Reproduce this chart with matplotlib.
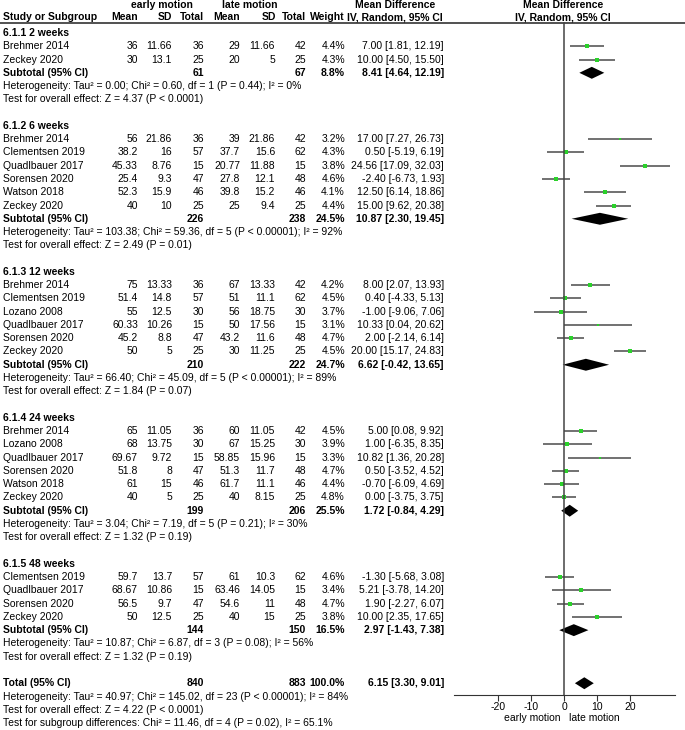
import numpy as np
import matplotlib
matplotlib.use("Agg")
import matplotlib.pyplot as plt
from matplotlib.transforms import blended_transform_factory

plt.rcParams['font.family'] = ['Liberation Sans', 'DejaVu Sans']

# dati del forest plot
gruppi = ["6.1.1 2 weeks", "6.1.2 6 weeks", "6.1.3 12 weeks", "6.1.4 24 weeks", "6.1.5 48 weeks"]

studi = [["Brehmer 2014", "Zeckey 2020"],
         ["Brehmer 2014", "Clementsen 2019", "Quadlbauer 2017", "Sorensen 2020", "Watson 2018", "Zeckey 2020"],
         ["Brehmer 2014", "Clementsen 2019", "Lozano 2008", "Quadlbauer 2017", "Sorensen 2020", "Zeckey 2020"],
         ["Brehmer 2014", "Lozano 2008", "Quadlbauer 2017", "Sorensen 2020", "Watson 2018", "Zeckey 2020"],
         ["Clementsen 2019", "Quadlbauer 2017", "Sorensen 2020", "Zeckey 2020"]]

early_mean = [[36, 30], [56, 38.2, 45.33, 25.4, 52.3, 40], [75, 51.4, 55, 60.33, 45.2, 50],
              [65, 68, 69.67, 51.8, 61, 40], [59.7, 68.67, 56.5, 50]]
early_sd = [[11.66, 13.1], [21.86, 16, 8.76, 9.3, 15.9, 10], [13.33, 14.8, 12.5, 10.26, 8.8, 5],
            [11.05, 13.75, 9.72, 8, 15, 5], [13.7, 10.86, 9.7, 12.5]]
early_n = [[36, 25], [36, 57, 15, 47, 46, 25], [36, 57, 30, 15, 47, 25],
           [36, 30, 15, 47, 46, 25], [57, 15, 47, 25]]
late_mean = [[29, 20], [39, 37.7, 20.77, 27.8, 39.8, 25], [67, 51, 56, 50, 43.2, 30],
             [60, 67, 58.85, 51.3, 61.7, 40], [61, 63.46, 54.6, 40]]
late_sd = [[11.66, 5], [21.86, 15.6, 11.88, 12.1, 15.2, 9.4], [13.33, 11.1, 18.75, 17.56, 11.6, 11.25],
           [11.05, 15.25, 15.96, 11.7, 11.1, 8.15], [10.3, 14.05, 11, 15]]
late_n = [[42, 25], [42, 62, 15, 48, 46, 25], [42, 62, 30, 15, 48, 25],
          [42, 30, 15, 48, 46, 25], [62, 15, 48, 25]]
peso = [[4.4, 4.3], [3.2, 4.3, 3.8, 4.6, 4.1, 4.4], [4.2, 4.5, 3.7, 3.1, 4.7, 4.5],
        [4.5, 3.9, 3.3, 4.7, 4.4, 4.8], [4.6, 3.4, 4.7, 3.8]]
md = [[7.00, 10.00], [17.00, 0.50, 24.56, -2.40, 12.50, 15.00], [8.00, 0.40, -1.00, 10.33, 2.00, 20.00],
      [5.00, 1.00, 10.82, 0.50, -0.70, 0.00], [-1.30, 5.21, 1.90, 10.00]]
md_lo = [[1.81, 4.50], [7.27, -5.19, 17.09, -6.73, 6.14, 9.62], [2.07, -4.33, -9.06, 0.04, -2.14, 15.17],
         [0.08, -6.35, 1.36, -3.52, -6.09, -3.75], [-5.68, -3.78, -2.27, 2.35]]
md_hi = [[12.19, 15.50], [26.73, 6.19, 32.03, 1.93, 18.86, 20.38], [13.93, 5.13, 7.06, 20.62, 6.14, 24.83],
         [9.92, 8.35, 20.28, 4.52, 4.69, 3.75], [3.08, 14.20, 6.07, 17.65]]

# subtotali
sub_early_n = [61, 226, 210, 199, 144]
sub_late_n = [67, 238, 222, 206, 150]
sub_peso = [8.8, 24.5, 24.7, 25.5, 16.5]
sub_md = [8.41, 10.87, 6.62, 1.72, 2.97]
sub_lo = [4.64, 2.30, -0.42, -0.84, -1.43]
sub_hi = [12.19, 19.45, 13.65, 4.29, 7.38]
sub_het = ["Tau\u00b2 = 0.00; Chi\u00b2 = 0.60, df = 1 (P = 0.44); I\u00b2 = 0%",
           "Tau\u00b2 = 103.38; Chi\u00b2 = 59.36, df = 5 (P < 0.00001); I\u00b2 = 92%",
           "Tau\u00b2 = 66.40; Chi\u00b2 = 45.09, df = 5 (P < 0.00001); I\u00b2 = 89%",
           "Tau\u00b2 = 3.04; Chi\u00b2 = 7.19, df = 5 (P = 0.21); I\u00b2 = 30%",
           "Tau\u00b2 = 10.87; Chi\u00b2 = 6.87, df = 3 (P = 0.08); I\u00b2 = 56%"]
sub_z = ["Z = 4.37 (P < 0.0001)", "Z = 2.49 (P = 0.01)", "Z = 1.84 (P = 0.07)",
         "Z = 1.32 (P = 0.19)", "Z = 1.32 (P = 0.19)"]

# totale
tot_early_n = 840
tot_late_n = 883
tot_md = 6.15
tot_lo = 3.30
tot_hi = 9.01
tot_het = "Tau\u00b2 = 40.97; Chi\u00b2 = 145.02, df = 23 (P < 0.00001); I\u00b2 = 84%"
tot_z = "Z = 4.22 (P < 0.0001)"
tot_sub = "Chi\u00b2 = 11.46, df = 4 (P = 0.02), I\u00b2 = 65.1%"

tick_x = [-20, -10, 0, 10, 20]

# geometria (pixel)
W, H = 685, 730
y0, dy = 33.0, 13.27
def riga_px(px):
    return (px - y0) / dy
ytop, ybot = riga_px(0), riga_px(H)

fig = plt.figure(figsize=(W / 100, H / 100), dpi=100)
ax = fig.add_axes([0, 0, 1, 1])
ax.set_xlim(0, W)
ax.set_ylim(ybot, ytop)
ax.axis('off')

x0_plot, x1_plot = 454, 675
axf = fig.add_axes([x0_plot / W, 0, (x1_plot - x0_plot) / W, 1])
axf.set_xlim(-33.3, 33.6)
axf.set_ylim(ybot, ytop)
axf.patch.set_alpha(0)

fs = 7.5
col_x = [138, 172, 204, 240, 275, 306, 345]
x_ci = 444

def testo(x, y, s, ha='left', bold=False):
    ax.text(x, y, s, ha=ha, va='center', fontsize=fs, fontweight='bold' if bold else 'normal', color='black')

def fmt(v):
    return '{:g}'.format(v)

def ci_str(m, l, h):
    return '%.2f [%.2f, %.2f]' % (m, l, h)

# intestazione
yh1, yh2 = riga_px(5), riga_px(17)
testo(162, yh1, "early motion", ha='center', bold=True)
testo(250, yh1, "late motion", ha='center', bold=True)
testo(395, yh1, "Mean Difference", ha='center', bold=True)
testo(563, yh1, "Mean Difference", ha='center', bold=True)
testo(3, yh2, "Study or Subgroup", bold=True)
for x, s in zip([138, 172, 204, 240, 276, 306, 345], ["Mean", "SD", "Total", "Mean", "SD", "Total", "Weight"]):
    testo(x, yh2, s, ha='right', bold=True)
testo(395, yh2, "IV, Random, 95% CI", ha='center', bold=True)
testo(563, yh2, "IV, Random, 95% CI", ha='center', bold=True)
ax.axhline(riga_px(22.5), color='#333333', lw=1.2)

h_diam = 0.45
col_ci = '#595959'
col_pt = '#2bd12b'
r = 0
for g in range(len(gruppi)):
    testo(3, r, gruppi[g], bold=True)
    r += 1
    for i in range(len(studi[g])):
        testo(3, r, studi[g][i])
        vals = [early_mean[g][i], early_sd[g][i], early_n[g][i],
                late_mean[g][i], late_sd[g][i], late_n[g][i]]
        for x, v in zip(col_x, vals):
            testo(x, r, fmt(v), ha='right')
        testo(col_x[6], r, '%.1f%%' % peso[g][i], ha='right')
        testo(x_ci, r, ci_str(md[g][i], md_lo[g][i], md_hi[g][i]), ha='right')
        axf.plot([md_lo[g][i], md_hi[g][i]], [r, r], color=col_ci, lw=1.2, solid_capstyle='butt')
        axf.plot(md[g][i], r, 's', color=col_pt, ms=peso[g][i] * 0.65, mew=0)
        r += 1
    testo(3, r, "Subtotal (95% CI)", bold=True)
    testo(col_x[2], r, str(sub_early_n[g]), ha='right', bold=True)
    testo(col_x[5], r, str(sub_late_n[g]), ha='right', bold=True)
    testo(col_x[6], r, '%.1f%%' % sub_peso[g], ha='right', bold=True)
    testo(x_ci, r, ci_str(sub_md[g], sub_lo[g], sub_hi[g]), ha='right', bold=True)
    axf.fill([sub_lo[g], sub_md[g], sub_hi[g], sub_md[g]], [r, r - h_diam, r, r + h_diam], color='black', lw=0)
    r += 1
    testo(3, r, "Heterogeneity: " + sub_het[g])
    r += 1
    testo(3, r, "Test for overall effect: " + sub_z[g])
    r += 2

testo(3, r, "Total (95% CI)", bold=True)
testo(col_x[2], r, str(tot_early_n), ha='right', bold=True)
testo(col_x[5], r, str(tot_late_n), ha='right', bold=True)
testo(col_x[6], r, '100.0%', ha='right', bold=True)
testo(x_ci, r, ci_str(tot_md, tot_lo, tot_hi), ha='right', bold=True)
axf.fill([tot_lo, tot_md, tot_hi, tot_md], [r, r - h_diam, r, r + h_diam], color='black', lw=0)
testo(3, r + 1, "Heterogeneity: " + tot_het)
testo(3, r + 2, "Test for overall effect: " + tot_z)
testo(3, r + 3, "Test for subgroup differences: " + tot_sub)

# asse del forest plot
y_asse = riga_px(695)
axf.plot([0, 0], [riga_px(22.5), y_asse], color='#444444', lw=1.1)
for s in ['top', 'left', 'right']:
    axf.spines[s].set_visible(False)
axf.spines['bottom'].set_position(('data', y_asse))
axf.spines['bottom'].set_color('#333333')
axf.set_yticks([])
axf.set_xticks(tick_x)
axf.set_xticklabels([str(t) for t in tick_x], fontsize=fs)
axf.tick_params(axis='x', length=4, pad=1, color='#333333')
trans = blended_transform_factory(axf.transData, ax.transData)
axf.text(-1.2, riga_px(718), "early motion", ha='right', va='center', fontsize=fs, transform=trans)
axf.text(1.5, riga_px(718), "late motion", ha='left', va='center', fontsize=fs, transform=trans)

plt.savefig('out.png', dpi=100)
